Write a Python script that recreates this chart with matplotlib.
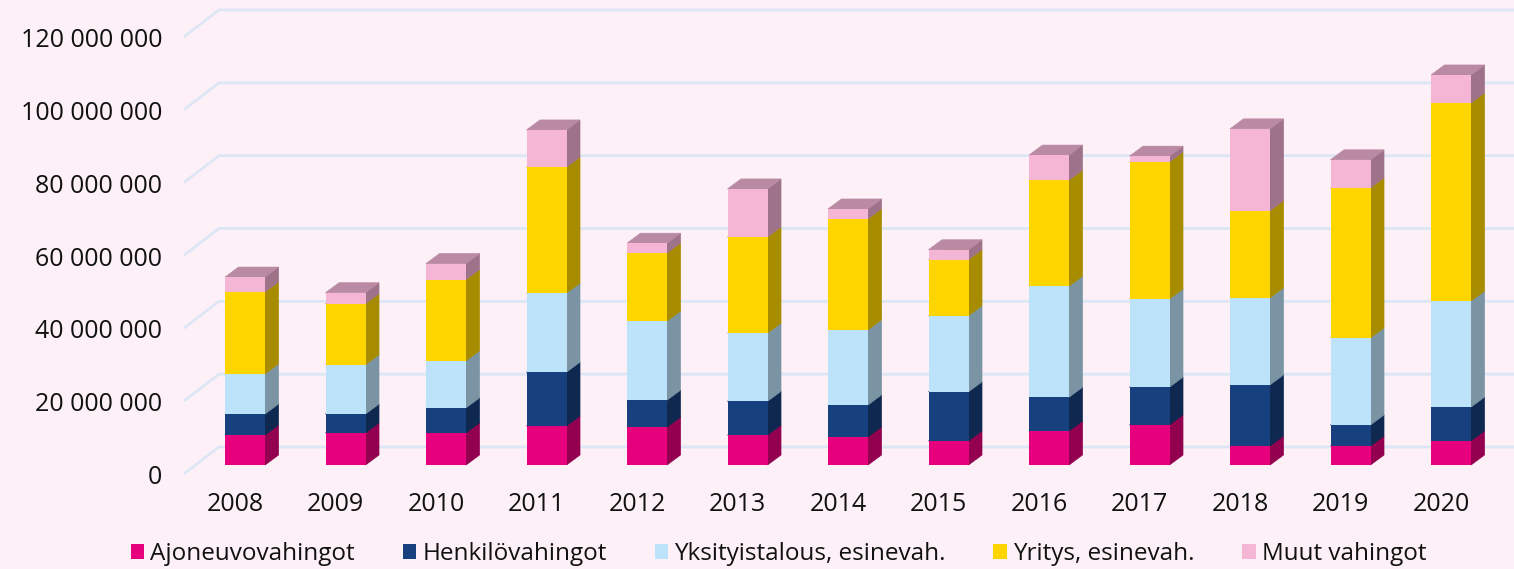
import numpy as np
import matplotlib
matplotlib.use('Agg')
import matplotlib.pyplot as plt
from matplotlib.patches import Patch
from matplotlib.transforms import ScaledTranslation

years = ['2008', '2009', '2010', '2011', '2012', '2013', '2014', '2015', '2016', '2017', '2018', '2019', '2020']

# arvot miljoonina euroina, luettu kuvasta
ajoneuvo = [8.2, 8.8, 8.8, 10.7, 10.4, 8.2, 7.7, 6.6, 9.3, 11.0, 5.2, 5.2, 6.6]
henkilo = [5.8, 5.2, 6.9, 14.8, 7.4, 9.3, 8.8, 13.5, 9.3, 10.4, 16.8, 5.8, 9.3]
yksityis = [11.0, 13.5, 12.9, 21.7, 21.7, 18.7, 20.6, 20.9, 30.5, 24.2, 23.9, 23.9, 29.1]
yritys = [22.5, 16.8, 22.3, 34.6, 18.7, 26.4, 30.5, 15.4, 29.1, 37.6, 23.9, 41.2, 54.4]
muut = [4.1, 3.0, 4.4, 10.2, 2.7, 13.2, 2.7, 2.7, 6.9, 1.6, 22.5, 7.7, 7.7]

series = [ajoneuvo, henkilo, yksityis, yritys, muut]
names = ['Ajoneuvovahingot', 'Henkilövahingot', 'Yksityistalous, esinevah.', 'Yritys, esinevah.', 'Muut vahingot']
colors = ['#E6007E', '#17407E', '#BDE3FA', '#FFD500', '#F5B5D5']
side_colors = ['#93004F', '#0F2850', '#7A94A4', '#A78C00', '#9E7389']
top_colors = ['#B0005F', '#123060', '#90ADBE', '#C2A200', '#BA89A3']

y_ticks = [0, 20, 40, 60, 80, 100, 120]
y_labels = ['0', '20 000 000', '40 000 000', '60 000 000', '80 000 000', '100 000 000', '120 000 000']

BG = '#FDF1F7'
GRID = '#DCE6F5'
W, H = 1514, 569

plt.rcParams['font.family'] = ['Open Sans', 'DejaVu Sans']

fig = plt.figure(figsize=(W / 100, H / 100), dpi=100, facecolor=BG)
ax = fig.add_axes([185 / W, (H - 473) / H, 1306.5 / W, 437 / H], facecolor='none')
ax.set_xlim(-0.5, 12.5)
ax.set_ylim(0, 120)

# 3d-syvyys: seinä ja palkit
wall_dx, wall_dy = 34 / 100.5, 26 / 3.642
bar_dx, bar_dy = 13.5 / 100.5, 10 / 3.642
bar_shift, bar_lift = 9.75 / 100.5, 8 / 3.642
bar_w = 40 / 100.5

for t in y_ticks:
    ax.plot([-0.5, -0.5 + wall_dx, 13], [t, t + wall_dy, t + wall_dy], color=GRID, lw=2, clip_on=False, zorder=1, solid_joinstyle='round')

x = np.arange(len(years)) + bar_shift
bottom = np.full(len(years), bar_lift)
for vals, c, sc, tc in zip(series, colors, side_colors, top_colors):
    vals = np.array(vals)
    top = bottom + vals
    right = x + bar_w / 2
    left = x - bar_w / 2
    for i in range(len(years)):
        ax.fill([right[i], right[i] + bar_dx, right[i] + bar_dx, right[i]],
                [bottom[i], bottom[i] + bar_dy, top[i] + bar_dy, top[i]],
                color=sc, lw=0.5, zorder=3, clip_on=False)
        ax.fill([left[i], left[i] + bar_dx, right[i] + bar_dx, right[i]],
                [top[i], top[i] + bar_dy, top[i] + bar_dy, top[i]],
                color=tc, lw=0.5, zorder=3, clip_on=False)
    ax.bar(x, vals, bar_w, bottom=bottom, color=c, zorder=4, clip_on=False)
    bottom = top

ax.set_xticks(np.arange(len(years)), years)
ax.set_yticks(y_ticks, y_labels)
ax.tick_params(axis='x', length=0, pad=13.5, labelsize=18, labelcolor='#111111')
ax.tick_params(axis='y', length=0, pad=16.5, labelsize=18, labelcolor='#111111')
for s in ax.spines.values():
    s.set_visible(False)
# numerot hieman alemmas
for lab in ax.get_yticklabels():
    lab.set_transform(lab.get_transform() + ScaledTranslation(0, -1.2 / 72, fig.dpi_scale_trans))

handles = [Patch(facecolor=c, label=n) for c, n in zip(colors, names)]
fig.legend(handles=handles, ncol=5, frameon=False, loc='center', bbox_to_anchor=(778.5 / W, (H - 554) / H),
           fontsize=17.5, handlelength=0.55, handleheight=0.55, handletextpad=0.25, columnspacing=1.97,
           labelcolor='#111111', borderpad=0)

fig.savefig('out.png', dpi=100, facecolor=BG)
